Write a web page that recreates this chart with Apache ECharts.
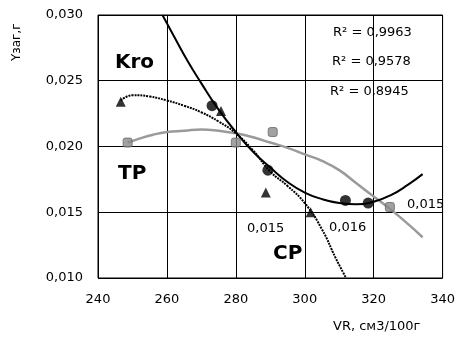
<!DOCTYPE html>
<html><head><meta charset="utf-8">
<script src="https://cdn.jsdelivr.net/npm/echarts@6/dist/echarts.min.js"></script>
<style>html,body{margin:0;padding:0;background:#fff}#c{width:458px;height:340px}</style>
</head><body><div id="c"></div>
<script>
// Measured points
const kroX = [273.1, 289.3, 311.8, 318.4];
const kroY = [0.0231, 0.0182, 0.0159, 0.0157];
const cpX = [246.6, 275.7, 288.7, 301.7];
const cpY = [0.0234, 0.0227, 0.0165, 0.0150];
const tpX = [248.6, 280.0, 290.7, 324.7];
const tpY = [0.0203, 0.0203, 0.0211, 0.0154];
// Trend lines
const kroCurveX = [258.7, 262, 266, 270, 275, 280, 285, 290, 295, 300, 305, 310, 315, 320, 325, 330, 334.2];
const kroCurveY = [0.0300, 0.0284, 0.0265, 0.0248, 0.0228, 0.0211, 0.0196, 0.0184, 0.0173, 0.0165, 0.0160, 0.0157, 0.0156, 0.0158, 0.0163, 0.0171, 0.0179];
const cpCurveX = [246.6, 250, 255, 260, 265, 270, 275, 280, 285, 290, 295, 300, 305, 309, 312];
const cpCurveY = [0.0235, 0.0239, 0.0238, 0.0235, 0.0231, 0.0226, 0.0219, 0.0210, 0.0197, 0.0181, 0.0170, 0.0157, 0.0137, 0.0115, 0.0100];
const tpCurveX = [248.6, 252, 256, 260, 265, 270, 275, 280, 285, 290, 295, 300, 305, 310, 315, 320, 325, 330, 334.2];
const tpCurveY = [0.0203, 0.0206, 0.0209, 0.0211, 0.0212, 0.0213, 0.0212, 0.0210, 0.0207, 0.0203, 0.0199, 0.0194, 0.0189, 0.0182, 0.0172, 0.0162, 0.0152, 0.0141, 0.0131];
const xTicks = [240, 260, 280, 300, 320, 340];
const yTicks = [0.010, 0.015, 0.020, 0.025, 0.030];
const r2Texts = ['R\u00B2 = 0,9963', 'R\u00B2 = 0,9578', 'R\u00B2 = 0,8945'];
const valueLabels = ['0,015', '0,016', '0,015'];
const seriesNames = ['Kro', 'TP', 'CP'];
const xName = 'VR, см3/100г';
const yName = 'Yзаг,г';

const zip = (a, b) => a.map((v, i) => [v, b[i]]);
const F = '"DejaVu Sans", Arial, sans-serif';
const txt = (x, y, text, font, extra) => Object.assign({ type: 'text', x: x, y: y,
  style: { text: text, font: font, fill: '#000', verticalAlign: 'middle', align: 'left' } }, extra || {});
const chart = echarts.init(document.getElementById('c'));
chart.setOption({
  animation: false,
  backgroundColor: '#fff',
  grid: { left: 98, right: 13, top: 15, bottom: 62, show: true, borderColor: '#000', borderWidth: 1 },
  xAxis: {
    type: 'value', min: xTicks[0], max: xTicks[xTicks.length - 1], interval: 20,
    axisLine: { show: false }, axisTick: { show: false },
    splitLine: { lineStyle: { color: '#000', width: 1 } },
    axisLabel: { color: '#000', fontFamily: F, fontSize: 13, margin: 15 }
  },
  yAxis: {
    type: 'value', min: yTicks[0], max: yTicks[yTicks.length - 1], interval: 0.005,
    axisLine: { show: false }, axisTick: { show: false },
    splitLine: { lineStyle: { color: '#000', width: 1 } },
    axisLabel: { color: '#000', fontFamily: F, fontSize: 13, margin: 15,
      formatter: v => v.toFixed(3).replace('.', ',') }
  },
  series: [
    { type: 'line', name: 'tpCurve', data: zip(tpCurveX, tpCurveY), smooth: true, symbol: 'none',
      lineStyle: { color: '#9a9a9a', width: 2.5 }, z: 2 },
    { type: 'line', name: 'cpCurve', data: zip(cpCurveX, cpCurveY), smooth: true, symbol: 'none',
      lineStyle: { color: '#000', width: 2, type: [2, 1] }, z: 3 },
    { type: 'line', name: 'kroCurve', data: zip(kroCurveX, kroCurveY), smooth: true, symbol: 'none',
      lineStyle: { color: '#000', width: 2 }, z: 4 },
    { type: 'scatter', name: seriesNames[1], data: zip(tpX, tpY), symbol: 'roundRect', symbolSize: 9,
      itemStyle: { color: '#8a8a8a', borderColor: '#666', borderWidth: 1 }, z: 5 },
    { type: 'scatter', name: seriesNames[2], data: zip(cpX, cpY), symbol: 'triangle', symbolSize: 10,
      itemStyle: { color: '#000' }, z: 6 },
    { type: 'scatter', name: seriesNames[0], data: zip(kroX, kroY), symbol: 'circle', symbolSize: 11,
      itemStyle: { color: '#000' }, z: 7 }
  ],
  graphic: [
    txt(115, 63, seriesNames[0], 'bold 20px ' + F),
    txt(118, 174, seriesNames[1], 'bold 20px ' + F),
    txt(273, 254, seriesNames[2], 'bold 20px ' + F),
    txt(333, 33, r2Texts[0], '13px ' + F),
    txt(332, 62, r2Texts[1], '13px ' + F),
    txt(330, 92, r2Texts[2], '13px ' + F),
    txt(247, 229, valueLabels[0], '13px ' + F),
    txt(329, 228, valueLabels[1], '13px ' + F),
    txt(407, 205, valueLabels[2], '13px ' + F),
    txt(333, 327, xName, '13px ' + F),
    { type: 'text', x: 11, y: 61, rotation: Math.PI / 2,
      style: { text: yName, font: '12px ' + F, fill: '#000', align: 'left', verticalAlign: 'top' } }
  ]
});
</script></body></html>
